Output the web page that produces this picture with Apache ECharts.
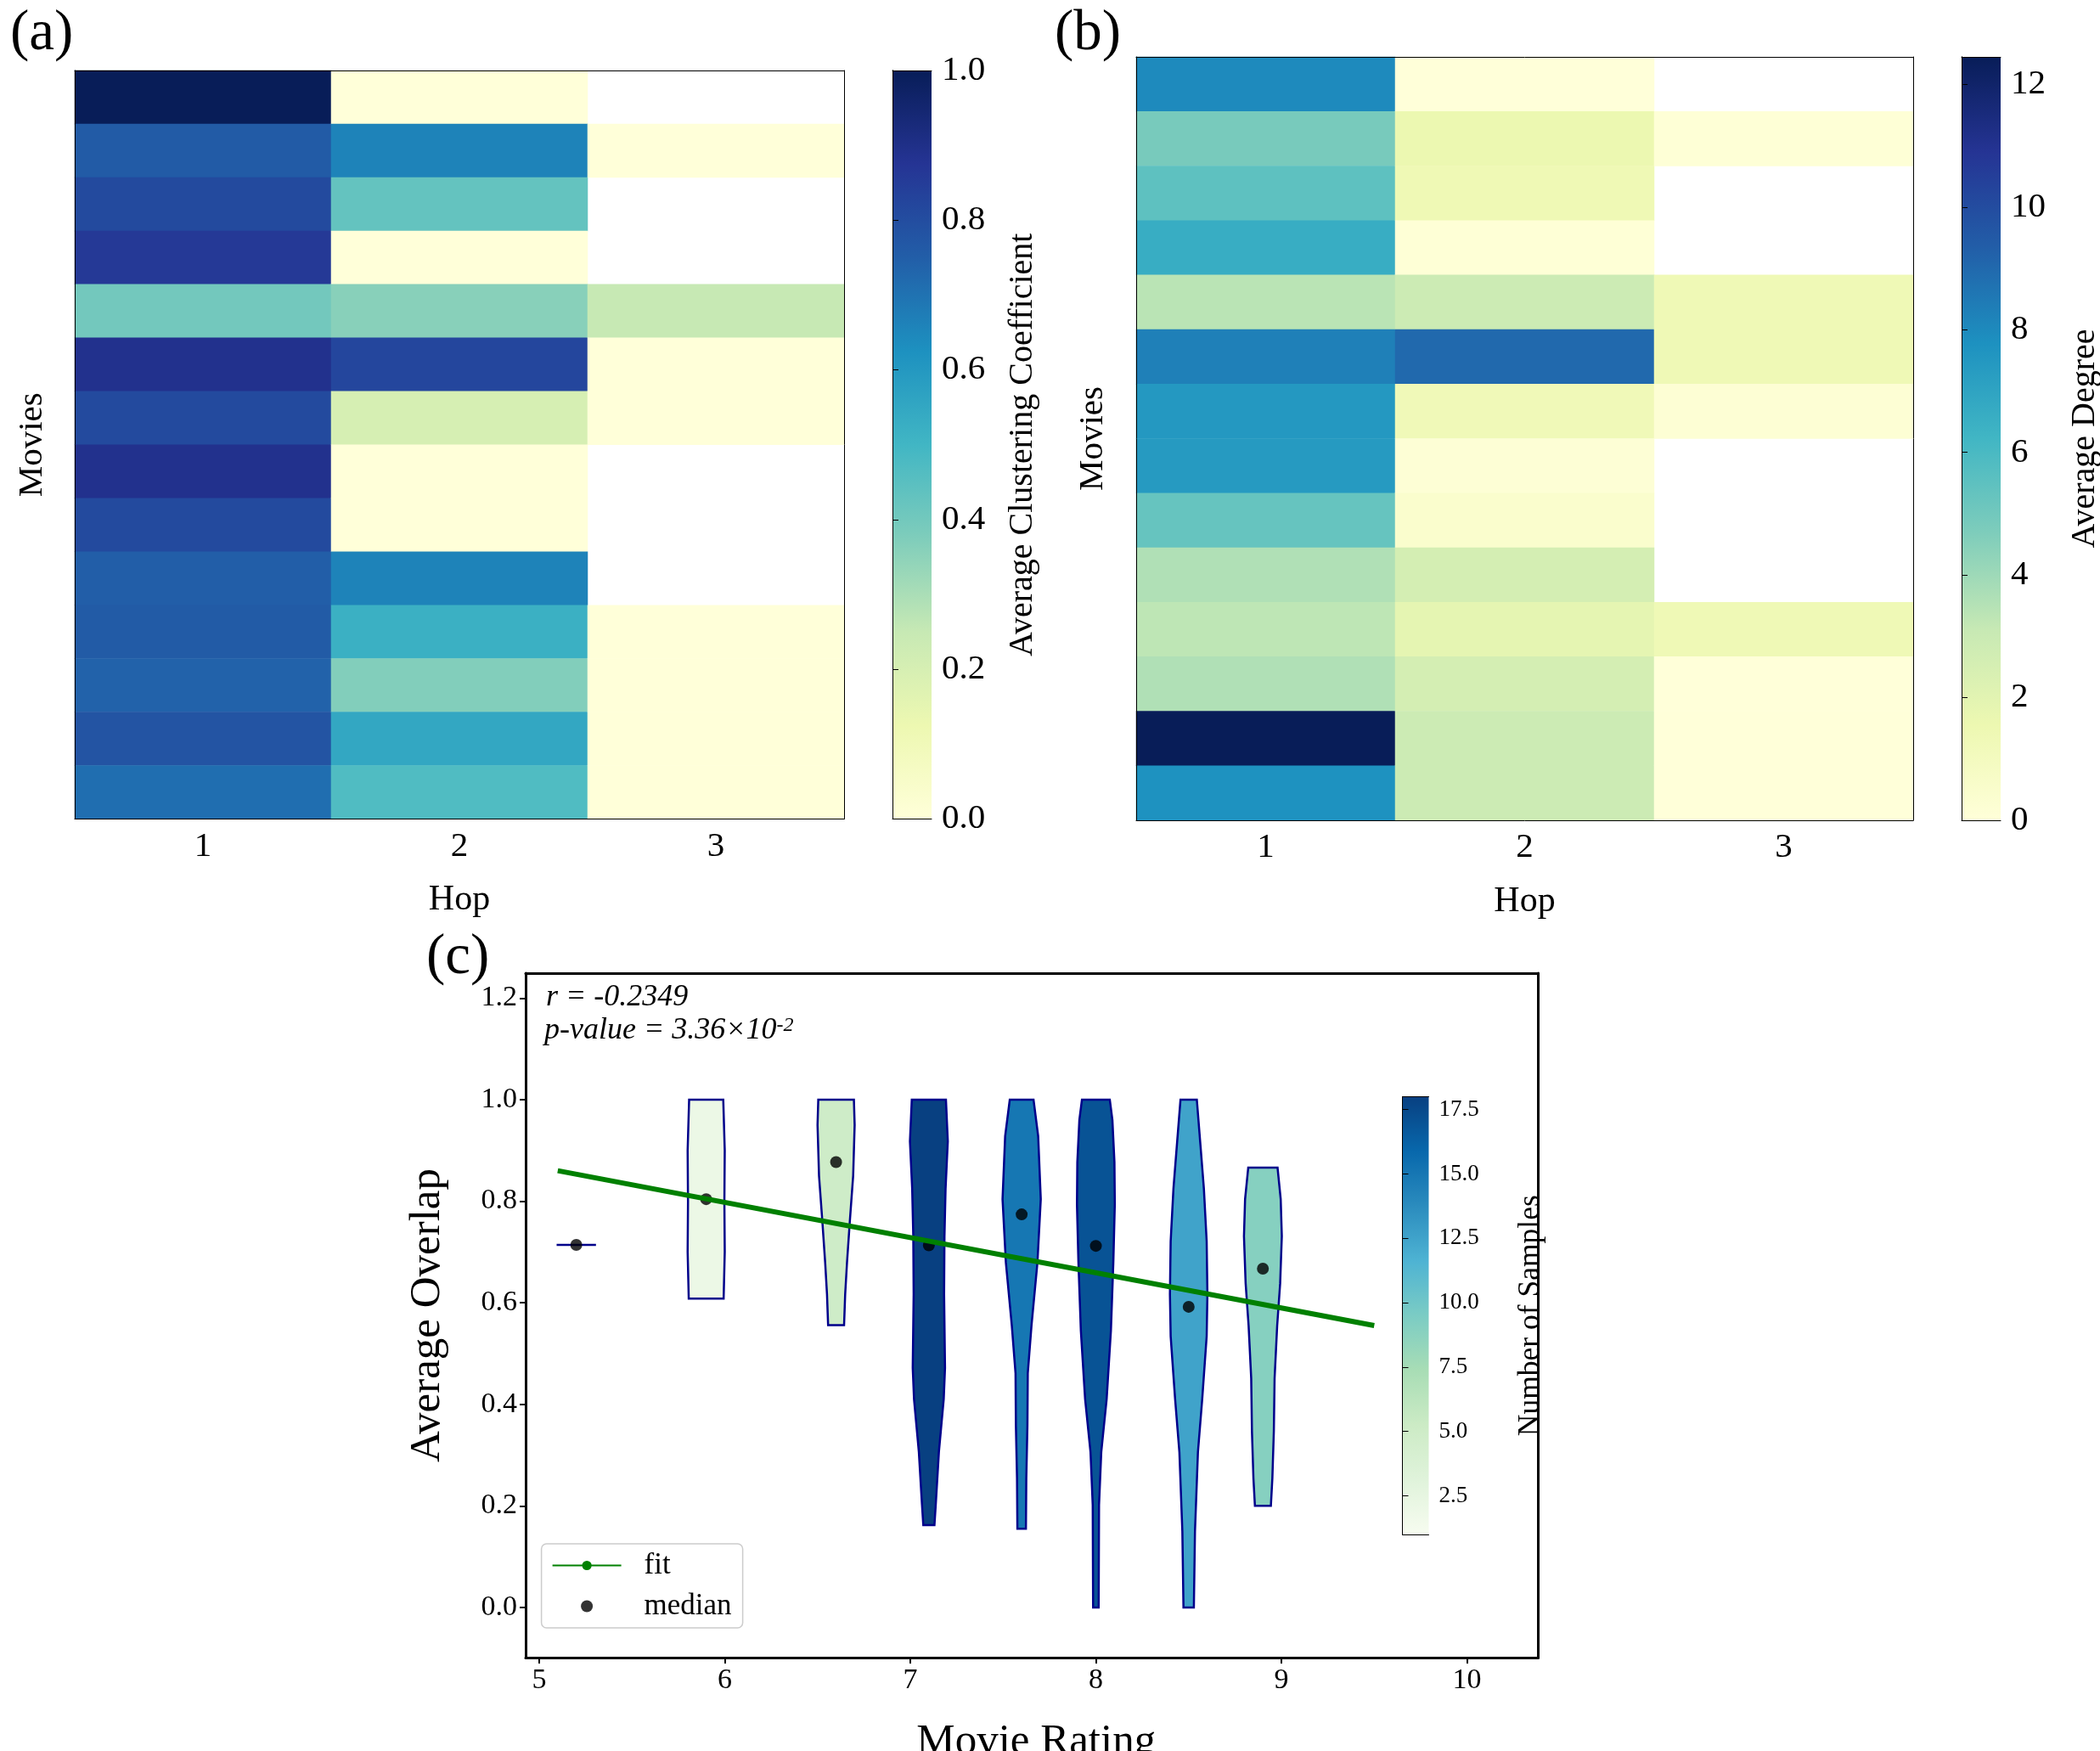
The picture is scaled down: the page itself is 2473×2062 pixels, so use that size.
<!DOCTYPE html>
<html>
<head>
<meta charset="utf-8">
<style>html,body{margin:0;padding:0;background:#fff}#c{width:2473px;height:2062px}</style>
<script src="https://cdn.jsdelivr.net/npm/echarts@6/dist/echarts.min.js"></script>
</head>
<body>
<div id="c"></div>
<script>
const FONT = 'Liberation Serif';
const hops = ['1', '2', '3'];
const movies = ['m1','m2','m3','m4','m5','m6','m7','m8','m9','m10','m11','m12','m13','m14'];

// (a) Average Clustering Coefficient, top row first; null = no value (white)
const clusterHop1 = [1.0, 0.76, 0.81, 0.86, 0.40, 0.89, 0.81, 0.89, 0.81, 0.75, 0.76, 0.74, 0.78, 0.71];
const clusterHop2 = [0.0, 0.66, 0.43, 0.0, 0.36, 0.82, 0.20, 0.0, 0.0, 0.66, 0.52, 0.37, 0.55, 0.47];
const clusterHop3 = [null, 0.0, null, null, 0.25, 0.0, 0.0, null, null, null, 0.0, 0.0, 0.0, 0.0];

// (b) Average Degree
const degreeHop1 = [8.0, 4.85, 5.5, 6.6, 3.4, 8.3, 7.5, 7.4, 5.3, 3.6, 3.3, 3.6, 12.45, 7.75];
const degreeHop2 = [0.0, 1.6, 1.4, 0.1, 2.9, 9.0, 1.3, 0.15, 0.45, 2.6, 1.9, 2.6, 2.9, 2.9];
const degreeHop3 = [null, 0.1, null, null, 1.35, 1.35, 0.2, null, null, null, 1.35, 0.0, 0.0, 0.0];

// (c) violins
const ratings = [5.2, 5.9, 6.6, 7.1, 7.6, 8.0, 8.5, 8.9];
const samples = [1, 2, 5, 18, 15, 17, 12.5, 9];
const medians = [0.714, 0.804, 0.877, 0.713, 0.774, 0.712, 0.592, 0.667];
const violinLevels = [
  [0.714, 0.714],
  [1.0, 0.9, 0.8, 0.7, 0.608],
  [1.0, 0.95, 0.85, 0.76, 0.68, 0.617, 0.556],
  [1.0, 0.918, 0.825, 0.731, 0.617, 0.472, 0.41, 0.306, 0.202, 0.162],
  [1.0, 0.928, 0.804, 0.679, 0.555, 0.461, 0.358, 0.254, 0.155],
  [1.0, 0.96, 0.877, 0.794, 0.679, 0.545, 0.41, 0.306, 0.202, 0.0],
  [1.0, 0.908, 0.825, 0.721, 0.617, 0.534, 0.41, 0.306, 0.15, 0.0],
  [0.866, 0.804, 0.731, 0.638, 0.555, 0.451, 0.347, 0.254, 0.2]
];
const violinHalfWidths = [
  [0.106, 0.106],
  [0.092, 0.1, 0.098, 0.1, 0.094],
  [0.096, 0.1, 0.092, 0.074, 0.059, 0.049, 0.043],
  [0.092, 0.102, 0.09, 0.084, 0.082, 0.087, 0.08, 0.054, 0.037, 0.03],
  [0.064, 0.089, 0.103, 0.085, 0.053, 0.033, 0.031, 0.025, 0.023],
  [0.075, 0.089, 0.1, 0.102, 0.094, 0.081, 0.058, 0.029, 0.017, 0.015],
  [0.044, 0.064, 0.082, 0.097, 0.101, 0.097, 0.073, 0.05, 0.034, 0.028],
  [0.079, 0.096, 0.102, 0.093, 0.077, 0.063, 0.059, 0.051, 0.043]
];
const fitX = [5.1, 9.5];
const fitY = [0.86, 0.555];

// tick labels
const ticksA = [0, 0.2, 0.4, 0.6, 0.8, 1.0];
const ticksB = [0, 2, 4, 6, 8, 10, 12];
const ticksC = [2.5, 5, 7.5, 10, 12.5, 15, 17.5];
const ticksOverlap = [0, 0.2, 0.4, 0.6, 0.8, 1.0, 1.2];
const ticksRating = [5, 6, 7, 8, 9, 10];

const YlGnBu = ['#ffffd9','#edf8b1','#c7e9b4','#7fcdbb','#41b6c4','#1d91c0','#225ea8','#253494','#081d58'];
const GnBu = ['#f7fcf0','#e0f3db','#ccebc5','#a8ddb5','#7bccc4','#4eb3d3','#2b8cbe','#0868ac','#084081'];

const grid = [], xAxis = [], yAxis = [], series = [], visualMap = [];
const txt = (size, extra) => Object.assign({ fontFamily: FONT, fontSize: size, color: '#000' }, extra || {});

function gridBox(l, t, r, b) {
  grid.push({ left: l, top: t, width: r - l, height: b - t, show: false, outerBoundsMode: 'none' });
  return grid.length - 1;
}
function edgeAxis(list, g, pos, width) {
  list.push({ gridIndex: g, type: 'value', min: 0, max: 1, position: pos, z: 10,
    axisLine: { show: true, onZero: false, lineStyle: { color: '#000', width } },
    axisTick: { show: false }, axisLabel: { show: false }, splitLine: { show: false } });
}
function heatPanel(box, h1, h2, h3, hopName, hopGap) {
  const g = gridBox(box.l, box.t, box.r, box.b);
  const xi = xAxis.length, yi = yAxis.length;
  xAxis.push({ gridIndex: g, type: 'category', data: hops, position: 'bottom', z: 10,
    name: 'Hop', nameLocation: 'middle', nameGap: hopGap, nameTextStyle: txt(42), nameMoveOverlap: false,
    axisLine: { show: true, lineStyle: { color: '#000', width: 1 } },
    axisTick: { alignWithLabel: true, length: 8, lineStyle: { color: '#000', width: 1 } },
    axisLabel: txt(41, { margin: 12 }), splitLine: { show: false } });
  yAxis.push({ gridIndex: g, type: 'category', data: movies, inverse: true, position: 'left', z: 10,
    name: 'Movies', nameLocation: 'middle', nameGap: box.moviesGap, nameTextStyle: txt(41), nameRotate: 90, nameMoveOverlap: false,
    axisLine: { show: true, lineStyle: { color: '#000', width: 1 } },
    axisTick: { show: false }, axisLabel: { show: false }, splitLine: { show: false } });
  edgeAxis(xAxis, g, 'top', 1);
  edgeAxis(yAxis, g, 'right', 1);
  const data = [];
  [h1, h2, h3].forEach((col, i) => col.forEach((v, j) => { if (v !== null) data.push([i, j, v]); }));
  series.push({ type: 'heatmap', xAxisIndex: xi, yAxisIndex: yi, data, itemStyle: { borderWidth: 0 }, z: 2 });
  visualMap.push({ type: 'continuous', show: false, seriesIndex: series.length - 1, dimension: 2,
    min: box.min, max: box.max, inRange: { color: YlGnBu } });
}
function colorBar(box, colors, ticks, fmt, labelSize, name, nameSize, nameGap, lw) {
  const g = gridBox(box.l, box.t, box.r, box.b);
  const xi = xAxis.length, yi = yAxis.length;
  edgeAxis(xAxis, g, 'bottom', lw);
  edgeAxis(xAxis, g, 'top', lw);
  yAxis.push({ gridIndex: g, type: 'value', min: box.min, max: box.max, position: 'right', z: 10,
    name, nameLocation: 'middle', nameGap, nameRotate: 90, nameTextStyle: txt(nameSize), nameMoveOverlap: false,
    axisLine: { show: true, lineStyle: { color: '#000', width: lw } },
    axisTick: { show: true, length: 7, customValues: ticks, lineStyle: { color: '#000', width: lw } },
    axisLabel: txt(labelSize, { margin: box.margin, formatter: fmt, customValues: ticks, showMinLabel: true, showMaxLabel: true }),
    splitLine: { show: false } });
  edgeAxis(yAxis, g, 'left', lw);
  const stops = colors.map((c, i) => ({ offset: i / (colors.length - 1), color: c }));
  series.push({ type: 'custom', xAxisIndex: xi, yAxisIndex: yi, silent: true, clip: false, z: 2,
    data: [[0, 1, box.min, box.max]],
    renderItem(p, api) {
      const a = api.coord([api.value(0), api.value(2)]);
      const b = api.coord([api.value(1), api.value(3)]);
      return { type: 'rect', shape: { x: a[0], y: b[1], width: b[0] - a[0], height: a[1] - b[1] },
        style: { fill: new echarts.graphic.LinearGradient(0, 1, 0, 0, stops) } };
    } });
}

heatPanel({ l: 88, t: 83, r: 994, b: 964.5, min: 0, max: 1, moviesGap: 29 }, clusterHop1, clusterHop2, clusterHop3, 'Hop', 74);
colorBar({ l: 1051, t: 83, r: 1097, b: 964.5, min: 0, max: 1, margin: 12 }, YlGnBu, ticksA, v => v.toFixed(1), 41, 'Average Clustering Coefficient', 40, 87, 1);
heatPanel({ l: 1338, t: 67, r: 2253, b: 966, min: 0, max: 12.45, moviesGap: 30 }, degreeHop1, degreeHop2, degreeHop3, 'Hop', 75);
colorBar({ l: 2310, t: 67, r: 2356, b: 966, min: 0, max: 12.45, margin: 12 }, YlGnBu, ticksB, v => String(v), 41, 'Average Degree', 40, 79, 1);

// (c) main plot
const gc = gridBox(619, 1146, 1811.5, 1952);
const cx = xAxis.length, cy = yAxis.length;
xAxis.push({ gridIndex: gc, type: 'value', min: 4.927, max: 10.384, position: 'bottom', z: 10,
  name: 'Movie Rating', nameLocation: 'middle', nameGap: 74, nameTextStyle: txt(51, { padding: [0, 0, 0, 10] }), nameMoveOverlap: false,
  axisLine: { show: true, onZero: false, lineStyle: { color: '#000', width: 3 } },
  axisTick: { length: 7, customValues: ticksRating, lineStyle: { color: '#000', width: 2 } },
  axisLabel: txt(34, { margin: 10, customValues: ticksRating }), splitLine: { show: false } });
yAxis.push({ gridIndex: gc, type: 'value', min: -0.0987, max: 1.249, position: 'left', z: 10,
  name: 'Average Overlap', nameLocation: 'middle', nameGap: 90, nameTextStyle: txt(51), nameRotate: 90, nameMoveOverlap: false,
  axisLine: { show: true, onZero: false, lineStyle: { color: '#000', width: 3 } },
  axisTick: { length: 7, customValues: ticksOverlap, lineStyle: { color: '#000', width: 2 } },
  axisLabel: txt(34, { margin: 10, customValues: ticksOverlap, formatter: v => v.toFixed(1) }), splitLine: { show: false } });
edgeAxis(xAxis, gc, 'top', 3);
edgeAxis(yAxis, gc, 'right', 3);

series.push({ type: 'custom', name: 'violins', xAxisIndex: cx, yAxisIndex: cy, z: 2,
  encode: { x: 0, y: 1 },
  data: ratings.map((r, i) => [r, medians[i], samples[i], i]),
  renderItem(p, api) {
    const i = api.value(3), r = api.value(0);
    const lv = violinLevels[i], hw = violinHalfWidths[i];
    const pts = [];
    lv.forEach((v, k) => pts.push(api.coord([r - hw[k], v])));
    for (let k = lv.length - 1; k >= 0; k--) pts.push(api.coord([r + hw[k], lv[k]]));
    return { type: 'polygon', shape: { points: pts },
      style: { fill: api.visual('color'), stroke: '#00008b', lineWidth: 2.5, lineJoin: 'miter' } };
  } });
visualMap.push({ type: 'continuous', show: false, seriesIndex: series.length - 1, dimension: 2,
  min: 1, max: 18, inRange: { color: GnBu } });
series.push({ type: 'scatter', name: 'median', xAxisIndex: cx, yAxisIndex: cy, z: 3, symbol: 'circle', symbolSize: 14,
  itemStyle: { color: '#000' }, data: ratings.map((r, i) => [r, medians[i]]) });
series.push({ type: 'line', name: 'fit', xAxisIndex: cx, yAxisIndex: cy, z: 4, symbol: 'none', showSymbol: false,
  lineStyle: { color: '#008000', width: 6 }, itemStyle: { color: '#008000' },
  data: fitX.map((x, i) => [x, fitY[i]]) });

colorBar({ l: 1651.5, t: 1291.5, r: 1682.5, b: 1807, min: 1, max: 18, margin: 12 }, GnBu, ticksC, v => v.toFixed(1), 27, 'Number of Samples', 35.5, 102, 1);

const option = {
  animation: false,
  backgroundColor: '#fff',
  textStyle: { fontFamily: FONT },
  grid, xAxis, yAxis, series, visualMap,
  legend: {
    data: ['fit', 'median'], orient: 'vertical', left: 637.6, top: 1818, selectedMode: false,
    itemWidth: 81, itemHeight: 14, itemGap: 13, padding: [8, 13, 8, 12], z: 20,
    backgroundColor: '#fff', borderColor: '#ccc', borderWidth: 1.5, borderRadius: 6,
    textStyle: txt(35, { padding: [0, 0, 0, 22] })
  },
  graphic: [
    { type: 'text', left: 12, top: 7, z: 30, style: { text: '(a)', font: '67px "' + FONT + '"', fill: '#000' } },
    { type: 'text', left: 1242, top: 7, z: 30, style: { text: '(b)', font: '67px "' + FONT + '"', fill: '#000' } },
    { type: 'text', left: 502, top: 1095, z: 30, style: { text: '(c)', font: '67px "' + FONT + '"', fill: '#000' } },
    { type: 'text', left: 643, top: 1157, z: 30, style: { text: 'r = -0.2349', font: 'italic 36px "' + FONT + '"', fill: '#000' } },
    { type: 'text', left: 641, top: 1196, z: 30, style: {
      text: '{a|p-value = 3.36×10}{b|-2}',
      rich: {
        a: { fontFamily: FONT, fontStyle: 'italic', fontSize: 36, fill: '#000', color: '#000' },
        b: { fontFamily: FONT, fontStyle: 'italic', fontSize: 24, fill: '#000', color: '#000', verticalAlign: 'top' }
      } } }
  ]
};
const chart = echarts.init(document.getElementById('c'), null, { renderer: 'canvas', width: 2473, height: 2062 });
chart.setOption(option);
</script>
</body>
</html>
